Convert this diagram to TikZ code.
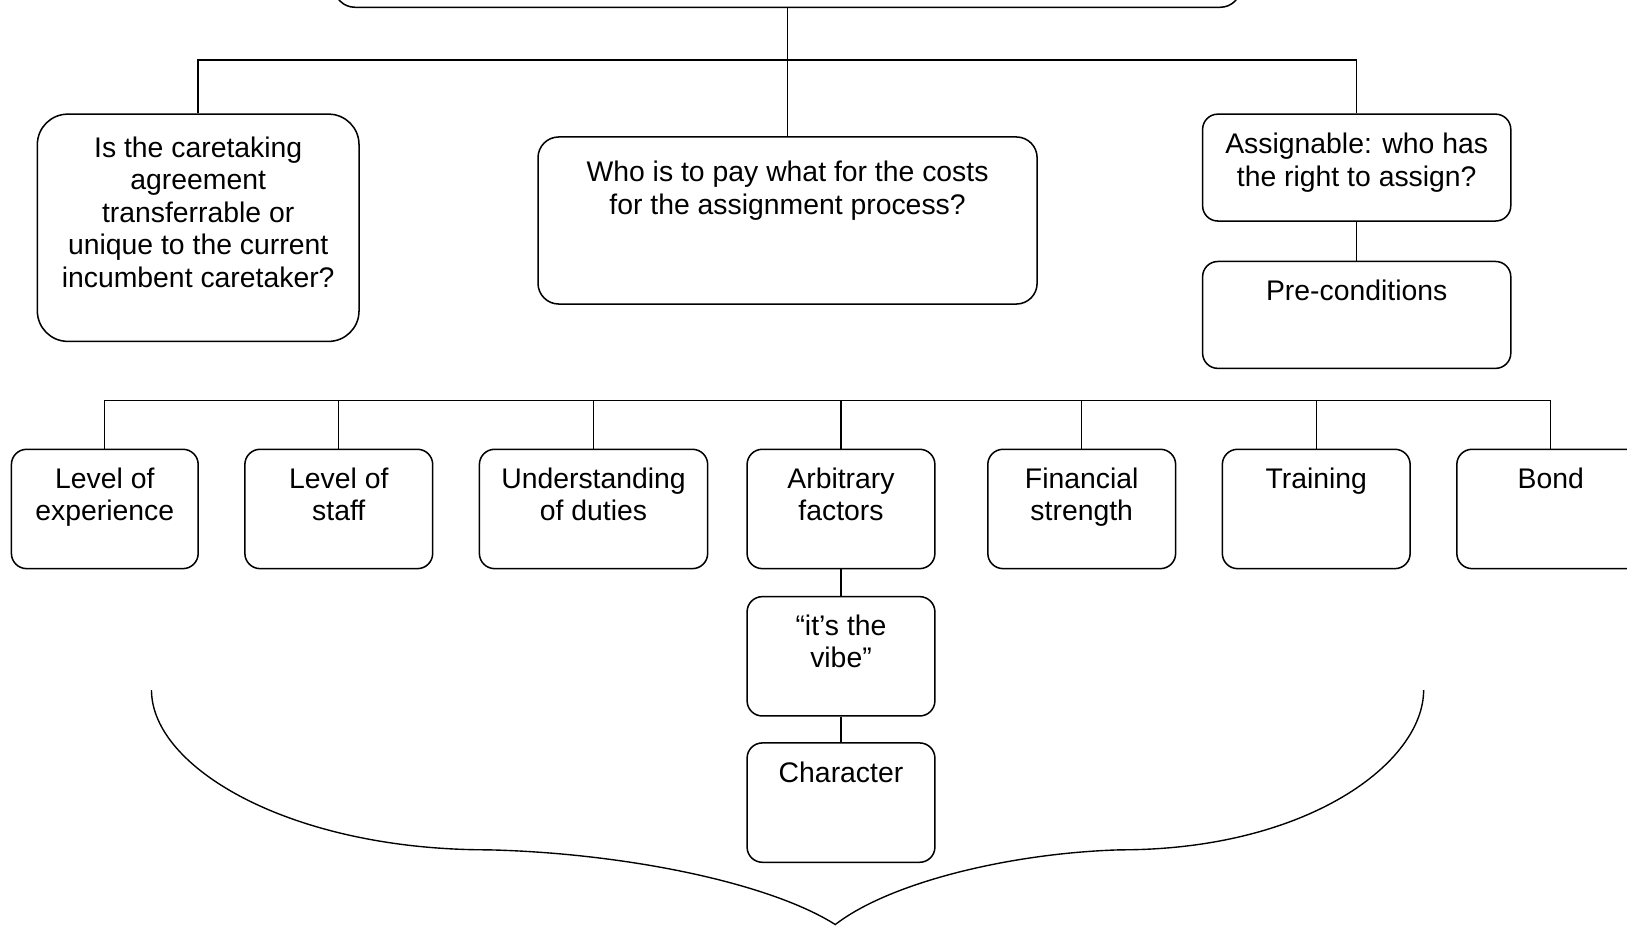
\documentclass[tikz,border=0pt]{standalone}
\usepackage{fontspec}
\setmainfont{Liberation Sans}
\usepackage{tikz}
\usetikzlibrary{positioning}

\tikzset{
  box/.style={draw, line width=1.1pt, rounded corners=11pt, inner sep=0pt},
  txt/.style={inner sep=0pt, align=center, font=\fontsize{20.5}{23.5}\selectfont},
  link/.style={line width=1pt}
}

\begin{document}
\begin{tikzpicture}[x=0.75pt,y=-0.75pt]
  \clip (0,0) rectangle (1568,893);
  %Rounded Rect [top]
  \node[box, rounded corners=15pt, minimum width=655.5pt, minimum height=50.25pt] (top) at (759,-26.5) {};
  %Rounded Rect [second level]
  \node[box, rounded corners=22pt, minimum width=232.5pt, minimum height=164.25pt] (care) at (191,219.5) {};
  \node[txt, below=16.5pt of care.north] (caret) {Is the caretaking\\agreement\\transferrable or\\unique to the current\\incumbent caretaker?};
  \node[box, rounded corners=15pt, minimum width=360.75pt, minimum height=120.75pt] (costs) at (759,212.5) {};
  \node[txt, below=18pt of costs.north] (costst) {Who is to pay what for the costs\\for the assignment process?};
  \node[box, minimum width=222.75pt, minimum height=77.25pt] (assign) at (1307.5,161.5) {};
  \node[txt, below=14.25pt of assign.north] (assignt) {Assignable: who has\\the right to assign?};
  \node[box, minimum width=222.75pt, minimum height=77.25pt] (precond) at (1307.5,303.5) {};
  \node[txt, below=13.5pt of precond.north] (precondt) {Pre-conditions};
  %Rounded Rect [third level]
  \node[box, minimum width=135pt, minimum height=86.25pt] (lexp) at (101,490.5) {};
  \node[txt, below=13.5pt of lexp.north] (lexpt) {Level of\\experience};
  \node[box, minimum width=135.75pt, minimum height=86.25pt] (lstaff) at (326.5,490.5) {};
  \node[txt, below=13.5pt of lstaff.north] (lstafft) {Level of\\staff};
  \node[box, minimum width=165pt, minimum height=86.25pt] (duty) at (572,490.5) {};
  \node[txt, below=13.5pt of duty.north] (dutyt) {Understanding\\of duties};
  \node[box, minimum width=135.75pt, minimum height=86.25pt] (arb) at (810.5,490.5) {};
  \node[txt, below=13.5pt of arb.north] (arbt) {Arbitrary\\factors};
  \node[box, minimum width=135.75pt, minimum height=86.25pt] (fin) at (1042.5,490.5) {};
  \node[txt, below=13.5pt of fin.north] (fint) {Financial\\strength};
  \node[box, minimum width=135.75pt, minimum height=86.25pt] (train) at (1268.5,490.5) {};
  \node[txt, below=13.5pt of train.north] (traint) {Training};
  \node[box, minimum width=135.75pt, minimum height=86.25pt] (bond) at (1494.5,490.5) {};
  \node[txt, below=13.5pt of bond.north] (bondt) {Bond};
  %Rounded Rect [below arbitrary factors]
  \node[box, minimum width=135.75pt, minimum height=86.25pt] (vibe) at (810.5,632.5) {};
  \node[txt, below=13.5pt of vibe.north] (vibet) {“it’s the\\vibe”};
  \node[box, minimum width=135.75pt, minimum height=86.25pt] (char) at (810.5,773.5) {};
  \node[txt, below=14.25pt of char.north] (chart) {Character};
  %Straight Lines
  \coordinate (hub) at (759,58);
  \coordinate (bus) at (810,386);
  \draw[link] (top.south) -- (costs.north);
  \draw[link] (care.north) |- (hub) -| (assign.north);
  \draw[link] (assign) -- (precond);
  \draw[link] (lexp.north) |- (bus) -| (bond.north);
  \foreach \n in {lstaff,duty,arb,fin,train}
    \draw[link] (\n.north) -- (\n.north |- bus);
  \draw[link] (arb) -- (vibe) -- (char);
  %Curve [brace]
  \draw[link] (146,665) .. controls (146,740) and (280,819) .. (470,819)
    .. controls (600,822) and (740,850) .. (805,891)
    .. controls (858,850) and (975,822) .. (1080,819)
    .. controls (1260,819) and (1372,735) .. (1372,665);
\end{tikzpicture}
\end{document}
